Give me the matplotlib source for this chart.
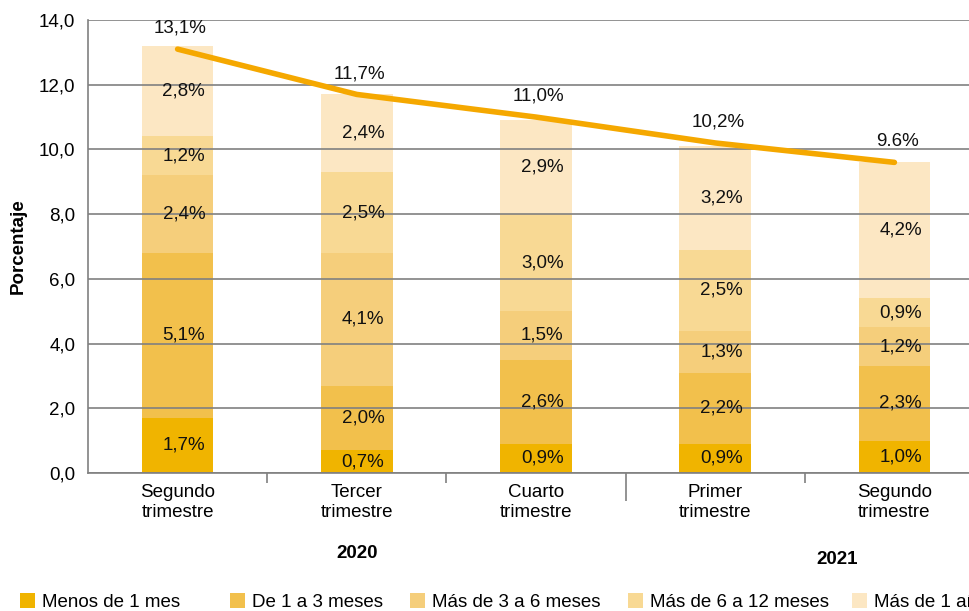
import matplotlib.pyplot as plt
import numpy as np
from matplotlib.patches import Patch

plt.rcParams['font.family'] = ['Liberation Sans', 'DejaVu Sans']

# datos
trimestres = ["Segundo\ntrimestre", "Tercer\ntrimestre", "Cuarto\ntrimestre",
              "Primer\ntrimestre", "Segundo\ntrimestre"]
series = ["Menos de 1 mes", "De 1 a 3 meses", "Más de 3 a 6 meses",
          "Más de 6 a 12 meses", "Más de 1 año"]
menos_1 = [1.7, 0.7, 0.9, 0.9, 1.0]
de_1_3 = [5.1, 2.0, 2.6, 2.2, 2.3]
de_3_6 = [2.4, 4.1, 1.5, 1.3, 1.2]
de_6_12 = [1.2, 2.5, 3.0, 2.5, 0.9]
mas_1 = [2.8, 2.4, 2.9, 3.2, 4.2]
total = [13.1, 11.7, 11.0, 10.2, 9.6]
total_labels = ["13,1%", "11,7%", "11,0%", "10,2%", "9.6%"]
years = ["2020", "2021"]
yticks = [0, 2, 4, 6, 8, 10, 12, 14]

colores = ["#F0B400", "#F2C04C", "#F5CE7B", "#F8D994", "#FCE7C3"]
color_linea = "#F5A800"
gris = "#808080"
fs = 13.5

fig = plt.figure(figsize=(9.69, 6.11), dpi=100)
ax = fig.add_axes([88/969, 1 - 473/611, 896/969, 453/611])

x = np.arange(len(trimestres))
bottom = np.zeros(len(x))
for vals, col in zip([menos_1, de_1_3, de_3_6, de_6_12, mas_1], colores):
    vals = np.array(vals)
    ax.bar(x, vals, 0.40, bottom=bottom, color=col, zorder=1)
    for xi, b, v in zip(x, bottom, vals):
        ax.text(xi + 0.035, b + v / 2, f"{v:.1f}%".replace(".", ","),
                ha="center", va="center", fontsize=fs, color="#111111", zorder=4)
    bottom += vals

ax.plot(x, total, color=color_linea, lw=4, solid_capstyle="round", zorder=3)
for xi, t, lab in zip(x, total, total_labels):
    ax.annotate(lab, (xi, t), xytext=(2, 15), textcoords="offset points",
                ha="center", va="center", fontsize=fs, color="#111111", zorder=4)

ax.set_xlim(-0.5, 4.5)
ax.set_ylim(0, 14)
ax.set_yticks(yticks)
ax.set_yticklabels([f"{v:.1f}".replace(".", ",") for v in yticks], fontsize=fs)
ax.set_axisbelow(False)
ax.yaxis.grid(True, color=gris, lw=1.2)
ax.tick_params(axis="y", length=0, pad=9)

ax.set_xticks(x)
ax.set_xticklabels(trimestres, fontsize=fs)
ax.set_xticks([0.5, 1.5, 3.5], minor=True)
ax.tick_params(axis="x", which="major", length=0, pad=8)
ax.tick_params(axis="x", which="minor", length=7, width=1.2, color=gris)

sec = ax.secondary_xaxis("bottom")
sec.set_xticks([2.5])
sec.set_xticklabels([""])
sec.tick_params(length=20, width=1.2, color=gris)
sec.spines["bottom"].set_visible(False)

for s in ["top", "right"]:
    ax.spines[s].set_visible(False)
for s in ["left", "bottom"]:
    ax.spines[s].set_color(gris)
    ax.spines[s].set_linewidth(1.2)

ax.set_ylabel("Porcentaje", fontsize=fs, fontweight="bold", labelpad=9)

tr = ax.get_xaxis_transform()
ax.text(1.0, -0.178, years[0], transform=tr, ha="center", va="center",
        fontsize=fs, fontweight="bold")
ax.text(3.68, -0.19, years[1], transform=tr, ha="center", va="center",
        fontsize=fs, fontweight="bold")

# leyenda: una entrada por posición
leg_x = [20, 230, 410, 628, 852]
for c, nombre, lx in zip(colores, series, leg_x):
    leg = fig.legend([Patch(facecolor=c, edgecolor="none")], [nombre],
                     loc="center left", bbox_to_anchor=(lx/969, 9/611),
                     frameon=False, fontsize=fs, handlelength=0.8, handleheight=0.9,
                     handletextpad=0.37, borderpad=0, borderaxespad=0)

fig.savefig("out.png", dpi=100)
